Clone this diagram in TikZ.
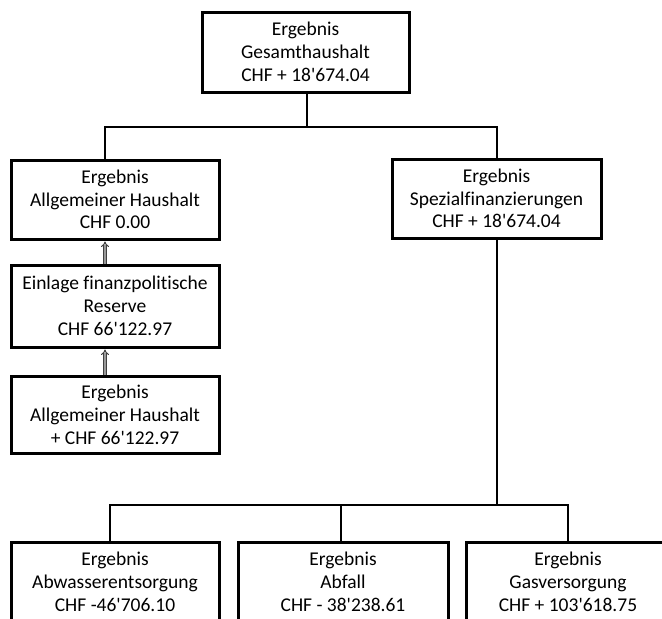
\documentclass[tikz,border=0pt]{standalone}
\usepackage{fontspec}
\setmainfont{Carlito}[Ligatures={NoCommon}]
\usetikzlibrary{arrows.meta}
\newcommand{\ap}{\textquotesingle}
\begin{document}
\begin{tikzpicture}[x=1pt,y=-1pt,
  box/.style={draw=black, line width=3pt, minimum width=208pt, minimum height=80pt,
    align=center, inner sep=0pt, font=\fontsize{19.5}{22.8}\selectfont},
  conn/.style={draw=black, line width=2.4pt},
  upar/.style={draw=black!75, double=black!40, double distance=1.6pt, line width=1pt,
    -{Implies[length=5pt,width=9pt]}}]
\clip (0,0) rectangle (662,619);
\fill[white] (0,0) rectangle (662,619);
\node[box, minimum width=207pt] (top) at (305.5,52) {Ergebnis\\Gesamthaushalt\\CHF + 18\ap674.04};
\node[box, minimum height=79pt] (L1) at (115,199.5) {Ergebnis\\Allgemeiner Haushalt\\CHF 0.00};
\node[box, minimum width=209pt, minimum height=79pt] (S) at (496.5,198.5) {Ergebnis\\Spezialfinanzierungen\\CHF + 18\ap674.04};
\node[box, minimum height=82pt] (L2) at (115,306) {Einlage finanzpolitische\\Reserve\\CHF 66\ap122.97};
\node[box, minimum height=77pt] (L3) at (115,414.5) {Ergebnis\\Allgemeiner Haushalt\\+ CHF 66\ap122.97};
\node[box] (B1) at (115,582) {Ergebnis\\Abwasserentsorgung\\CHF -46\ap706.10};
\node[box, minimum width=210pt] (B2) at (343,582) {Ergebnis\\Abfall\\CHF - 38\ap238.61};
\node[box, minimum width=204pt] (B3) at (568,582) {Ergebnis\\Gasversorgung\\CHF + 103\ap618.75};
\coordinate (h1) at (307,127);
\coordinate (h2) at (497,505);
% top tree
\draw[conn] ([xshift=1.5pt]top.south) -- (h1);
\draw[conn] ([xshift=-10pt]L1.north) |- (h1) -| ([xshift=0.5pt]S.north);
% bottom tree
\draw[conn] ([xshift=0.5pt]S.south) -- (h2);
\draw[conn] ([xshift=-5pt]B1.north) |- (h2) -| (B3.north);
\draw[conn] ([xshift=-2pt]B2.north) -- ([xshift=-2pt]B2.north |- h2);
% arrows
\draw[upar] ([xshift=-10pt]L2.north) -- ([xshift=-10pt,yshift=-1pt]L1.south);
\draw[upar] ([xshift=-10pt]L3.north) -- ([xshift=-10pt,yshift=-1pt]L2.south);
\end{tikzpicture}
\end{document}
